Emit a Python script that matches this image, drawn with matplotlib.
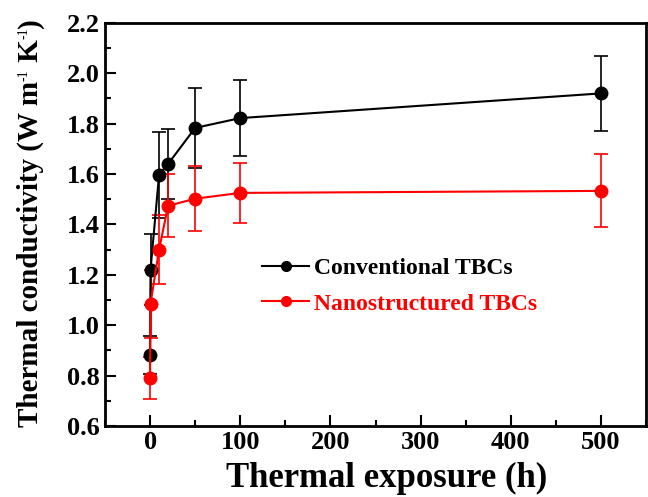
import numpy as np
from matplotlib import pyplot as plt
from matplotlib.ticker import MultipleLocator
from matplotlib.lines import Line2D
from matplotlib.transforms import IdentityTransform

plt.rcParams['font.family'] = ['Liberation Serif', 'DejaVu Serif']
plt.rcParams['font.weight'] = 'bold'

hours = [0, 0.5, 10, 20, 50, 100, 500]
conv = [0.88, 1.22, 1.597, 1.64, 1.783, 1.822, 1.92]
conv_err = [0.075, 0.14, 0.17, 0.14, 0.16, 0.15, 0.148]
nano = [0.79, 1.085, 1.30, 1.474, 1.502, 1.525, 1.533]
nano_err = [0.085, 0.135, 0.136, 0.125, 0.128, 0.12, 0.145]
names = ['Conventional TBCs', 'Nanostructured TBCs']
colors = ['black', 'red']

fig = plt.figure(figsize=(6.48, 4.97), dpi=100)
ax = fig.add_axes([0.162, 0.143, 0.835, 0.811])

for y, e, c in zip([conv, nano], [conv_err, nano_err], colors):
    ax.errorbar(hours, y, yerr=e, color=c, marker='o', ms=9,
                lw=1.5, capsize=5, elinewidth=1.2, capthick=1.2)

ax.set_xlim(-50, 550)
ax.set_ylim(0.6, 2.2)
ax.xaxis.set_major_locator(MultipleLocator(100))
ax.xaxis.set_minor_locator(MultipleLocator(50))
ax.yaxis.set_major_locator(MultipleLocator(0.2))
ax.yaxis.set_minor_locator(MultipleLocator(0.1))
ax.yaxis.set_major_formatter(plt.FormatStrFormatter('%.1f'))
ax.tick_params(which='both', direction='in', labelsize=19, width=1.5)
ax.tick_params(which='major', length=8)
ax.tick_params(which='minor', length=4)
for s in ax.spines.values():
    s.set_linewidth(2)

ax.set_xlabel('Thermal exposure (h)', fontsize=25, fontweight='bold')
ax.xaxis.set_label_coords(0.52, -0.09)

# y label built piece by piece so the superscripts stay small
pieces = [('Thermal conductivity (W m', 21, 0),
          ('-1', 10, -11),
          (' K', 21, 0),
          ('-1', 10, -11),
          (')', 21, 0)]
renderer = fig.canvas.get_renderer()
ypos = 70  # pixels from bottom of figure
for txt, size, shift in pieces:
    t = fig.text(38 + shift, ypos, txt, fontsize=size, rotation=90,
                 rotation_mode='anchor', ha='left', va='baseline',
                 transform=IdentityTransform(),
                 fontweight='bold' if size > 15 else 'normal')
    ypos += t.get_window_extent(renderer).height

handles = [Line2D([], [], color=c, marker='o', ms=7, lw=1.5) for c in colors]
leg = ax.legend(handles, names, loc='center left', bbox_to_anchor=(0.29, 0.347),
                frameon=False, fontsize=17, handlelength=2.0, handletextpad=0.2,
                labelspacing=0.6, borderpad=0, borderaxespad=0)
for txt, c in zip(leg.get_texts(), colors):
    txt.set_color(c)

fig.savefig('out.png', dpi=100)
